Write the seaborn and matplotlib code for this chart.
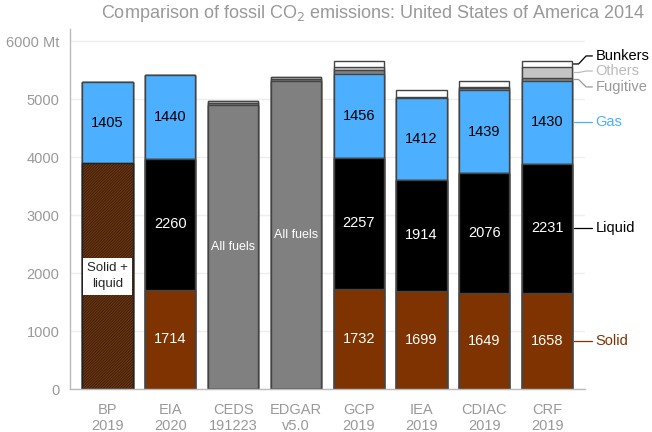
import numpy as np
import pandas as pd
import matplotlib
matplotlib.use("Agg")
import matplotlib.pyplot as plt
import seaborn as sns

# Fossil CO2 emissions, United States of America 2014 (Mt CO2)
sources = ["BP\n2019", "EIA\n2020", "CEDS\n191223", "EDGAR\nv5.0",
           "GCP\n2019", "IEA\n2019", "CDIAC\n2019", "CRF\n2019"]
solid = [0, 1714, 0, 0, 1732, 1699, 1649, 1658]
liquid = [0, 2260, 0, 0, 2257, 1914, 2076, 2231]
solid_liquid = [3895, 0, 0, 0, 0, 0, 0, 0]
all_fuels = [0, 0, 4905, 5310, 0, 0, 0, 0]
gas = [1405, 1440, 0, 0, 1456, 1412, 1439, 1430]
fugitive = [0, 0, 25, 35, 55, 0, 30, 50]
others = [0, 0, 50, 35, 55, 10, 20, 190]
bunkers = [0, 0, 0, 0, 105, 125, 110, 105]

yticks = [0, 1000, 2000, 3000, 4000, 5000, 6000]
ytick_labels = ["0", "1000", "2000", "3000", "4000", "5000", "6000 Mt"]

BROWN = "#7f3300"
BLUE = "#4dafff"
GREY = "#808080"
LIGHT = "#c4c4c4"
EDGE = "#444444"
TXT = "#999999"

layers = [
    ("Solid", solid, BROWN),
    ("Liquid", liquid, "black"),
    ("Solid + liquid", solid_liquid, BROWN),
    ("All fuels", all_fuels, GREY),
    ("Gas", gas, BLUE),
    ("Fugitive", fugitive, GREY),
    ("Others", others, LIGHT),
    ("Bunkers", bunkers, "white"),
]

df = pd.DataFrame({name: vals for name, vals, _ in layers}, index=sources)
cum = df.cumsum(axis=1)

sns.set_style("whitegrid")
plt.rcParams["font.family"] = ["Liberation Sans", "DejaVu Sans"]
plt.rcParams["hatch.linewidth"] = 0.6

fig = plt.figure(figsize=(6.52, 4.32), dpi=100)
ax = fig.add_axes([0.107, 0.0995, 0.79, 0.834])

# stacked bars: draw cumulative totals from top layer down
for name, _, color in reversed(layers):
    sns.barplot(x=sources, y=cum[name].values, color=color, saturation=1,
                edgecolor=EDGE, linewidth=1, width=0.8, ax=ax, zorder=2)
    if name == "Solid + liquid":
        bp = ax.containers[-1].patches[0]
        bp.set_hatch("/" * 12)
        bp.set_edgecolor("#222222")
        if hasattr(bp, "set_hatchcolor"):
            bp.set_hatchcolor("#1a0a00")

# numbers in the segments
for i in range(len(sources)):
    for name, col in [("Solid", "white"), ("Liquid", "white"), ("Gas", "black")]:
        v = df[name].iloc[i]
        if v > 0:
            mid = cum[name].iloc[i] - v / 2
            ax.text(i, mid, f"{v}", ha="center", va="center", color=col,
                    fontsize=10.5, zorder=5)
    if df["All fuels"].iloc[i] > 0:
        ax.text(i, df["All fuels"].iloc[i] / 2, "All fuels", ha="center",
                va="center", color="white", fontsize=9, zorder=5)
ax.text(0, solid_liquid[0] / 2, "Solid +\nliquid", ha="center", va="center",
        fontsize=9.5, linespacing=1.5, zorder=5,
        bbox=dict(facecolor="white", edgecolor="none", pad=3))

# labels on the right, at the CRF segments
last = len(sources) - 1
x0, x1, x2 = last + 0.42, last + 0.72, last + 0.77
right = [
    ("Bunkers", "Bunkers", "black", 5750),
    ("Others", "Others", "#bbbbbb", 5490),
    ("Fugitive", "Fugitive", "#999999", 5215),
    ("Gas", "Gas", BLUE, None),
    ("Liquid", "Liquid", "black", None),
    ("Solid", "Solid", BROWN, None),
]
for name, label, col, ylab in right:
    mid = cum[name].iloc[last] - df[name].iloc[last] / 2
    if ylab is None:
        ylab = mid
    xs = [x0, x0 + 0.08, x1 - 0.1, x1]
    ys = [mid, mid, ylab, ylab]
    ax.plot(xs, ys, color=col, lw=0.9, clip_on=False, zorder=5)
    ax.text(x2, ylab, label, ha="left", va="center", color=col,
            fontsize=10.5, clip_on=False)

ax.set_xlim(-0.6, 7.6)
ax.set_ylim(0, 6220)
ax.set_yticks(yticks)
ax.set_yticklabels(ytick_labels)
ax.grid(axis="x", visible=False)
ax.grid(axis="y", color="#eeeeee", lw=1, zorder=0)
ax.set_axisbelow(True)
for s in ["top", "right"]:
    ax.spines[s].set_visible(False)
for s in ["left", "bottom"]:
    ax.spines[s].set_color("#bbbbbb")
    ax.spines[s].set_linewidth(1)
ax.tick_params(axis="both", colors="#bbbbbb", labelcolor=TXT, length=4,
               width=1, labelsize=10.5)
ax.tick_params(axis="x", pad=6)
for t in ax.get_xticklabels():
    t.set_linespacing(1.15)

fig.text(0.572, 0.968, "Comparison of fossil CO$_2$ emissions: United States of America 2014",
         ha="center", va="center", color="#999999", fontsize=13)

fig.savefig("out.png", dpi=100)
